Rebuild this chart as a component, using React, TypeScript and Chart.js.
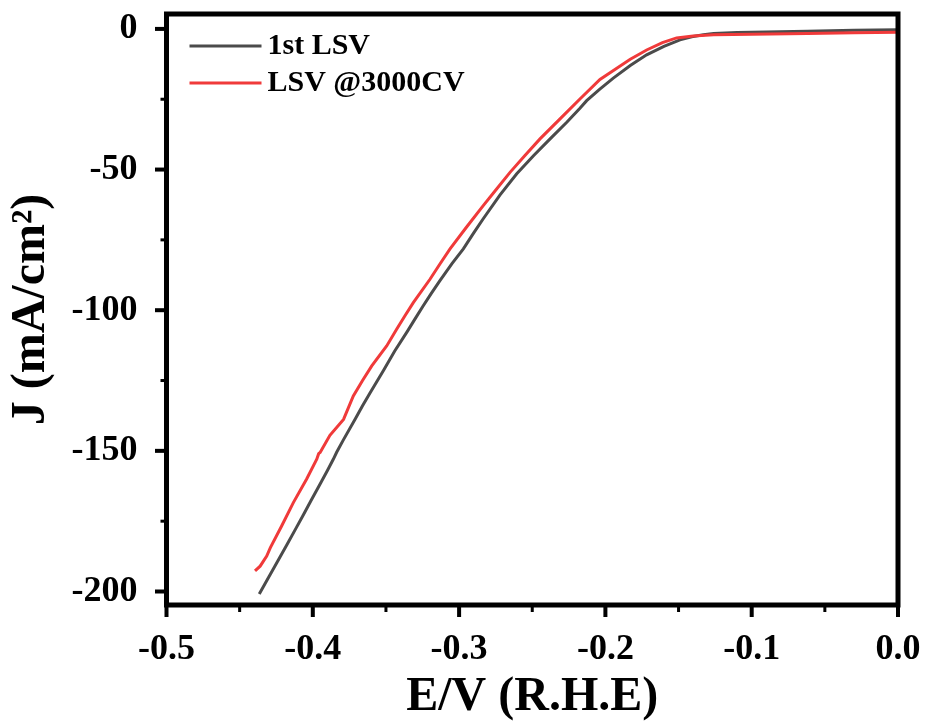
import React, { useEffect, useRef } from "react";
import { Chart, registerables } from "chart.js";

Chart.register(...registerables);

const FONT = "'Liberation Serif', 'Times New Roman', serif";

const seriesLabels = ["1st LSV", "LSV @3000CV"];
const seriesColors = ["#4b4b4b", "#f03a3a"];

// 1st LSV: potential (V vs RHE) and current density (mA/cm2)
const firstE = [
  -0.4366, -0.432, -0.427, -0.4225, -0.4178, -0.412, -0.4065, -0.401, -0.395, -0.39,
  -0.386, -0.3837, -0.379, -0.371, -0.366, -0.361, -0.3518, -0.344, -0.3358, -0.33,
  -0.3245, -0.319, -0.3131, -0.305, -0.2971, -0.29, -0.2835, -0.272, -0.2606, -0.249,
  -0.2378, -0.2264, -0.2174, -0.2128, -0.204, -0.1946, -0.183, -0.1718, -0.16, -0.149,
  -0.141, -0.133, -0.126, -0.11, -0.09, -0.062, -0.03, 0.0,
];
const firstJ = [
  -200.9, -196.6, -192, -187.8, -183.5, -178, -172.8, -167.5, -161.8, -157,
  -153, -150.5, -146, -138.7, -134, -129.5, -121.5, -114.5, -107.9, -103,
  -98.4, -94, -89.5, -83.5, -78.2, -72.5, -67.5, -59, -51.5, -45,
  -39.1, -33.2, -28.2, -25.5, -21.5, -17.5, -13, -9.2, -6.2, -3.9,
  -2.8, -2.1, -1.6, -1.3, -1.1, -0.8, -0.5, -0.3,
];

// LSV after 3000 CV cycles
const cycledE = [
  -0.4395, -0.436, -0.4315, -0.429, -0.4213, -0.4133, -0.4042, -0.3973, -0.396, -0.395,
  -0.3883, -0.379, -0.3723, -0.366, -0.3597, -0.3495, -0.3427, -0.337, -0.3313, -0.3199,
  -0.313, -0.3062, -0.295, -0.2835, -0.2745, -0.2652, -0.255, -0.2447, -0.231, -0.2174,
  -0.2037, -0.194, -0.183, -0.1718, -0.161, -0.1513, -0.14, -0.126, -0.1, -0.062,
  -0.03, 0.0,
];
const cycledJ = [
  -192.7, -191, -187.4, -184.4, -176.7, -168.4, -160, -153, -151, -150.6,
  -144.5, -138.8, -130.5, -125, -119.8, -112.7, -106.8, -102, -97.3, -89,
  -83.5, -78.2, -70.5, -62.8, -57, -51, -45, -39.1, -32, -24.9,
  -18, -14.6, -10.8, -7.5, -4.9, -3.2, -2.5, -2.1, -1.9, -1.6,
  -1.4, -1.2,
];

const xRange = [-0.5, 0.0];
const yRange = [-204.8, 5.3];
const xMajorTicks = [-0.5, -0.4, -0.3, -0.2, -0.1, 0.0];
const xMinorTicks = [-0.45, -0.35, -0.25, -0.15, -0.05];
const yMajorTicks = [0, -50, -100, -150, -200];
const yMinorTicks = [-25, -75, -125, -175];

const xTitle = "E/V (R.H.E)";
const yTitle = "J (mA/cm\u00B2)";

const toPoints = (xs: number[], ys: number[]) => xs.map((x, i) => ({ x, y: ys[i] }));

const framePlugin = {
  id: "frameAndTicks",
  afterDatasetsDraw(chart: any) {
    const { ctx, chartArea } = chart;
    const { left, right, top, bottom } = chartArea;
    const xs = chart.scales.x;
    const ys = chart.scales.y;
    ctx.save();
    ctx.fillStyle = "#000";
    for (const v of yMajorTicks) {
      const p = ys.getPixelForValue(v);
      ctx.fillRect(left - 11.5, p - 2, 11.5, 4);
    }
    for (const v of yMinorTicks) {
      const p = ys.getPixelForValue(v);
      ctx.fillRect(left - 6, p - 1.5, 6, 3);
    }
    for (const v of xMajorTicks) {
      const p = xs.getPixelForValue(v);
      ctx.fillRect(p - 2, bottom, 4, 12);
    }
    for (const v of xMinorTicks) {
      const p = xs.getPixelForValue(v);
      ctx.fillRect(p - 1.5, bottom, 3, 7);
    }
    ctx.strokeStyle = "#000";
    ctx.lineWidth = 5;
    ctx.strokeRect(left, top, right - left, bottom - top);
    ctx.restore();
  },
};

const legendPlugin = {
  id: "insideLegend",
  afterDraw(chart: any) {
    const { ctx, chartArea } = chart;
    const x0 = chartArea.left + 23;
    const rows = [chartArea.top + 32, chartArea.top + 69];
    ctx.save();
    ctx.font = `bold 30px ${FONT}`;
    ctx.textBaseline = "middle";
    ctx.textAlign = "left";
    seriesLabels.forEach((label, i) => {
      const y = rows[i];
      ctx.strokeStyle = seriesColors[i];
      ctx.lineWidth = 3;
      ctx.beginPath();
      ctx.moveTo(x0, y);
      ctx.lineTo(x0 + 72, y);
      ctx.stroke();
      ctx.fillStyle = "#000";
      ctx.fillText(label, x0 + 78, y);
    });
    ctx.restore();
  },
};

export default function App() {
  const ref = useRef<HTMLCanvasElement>(null);
  useEffect(() => {
    document.body.style.margin = "0";
    const canvas = ref.current;
    if (!canvas) return;
    const tickFont = { family: FONT, size: 36, weight: "bold" as const, lineHeight: 1 };
    const titleFont = { family: FONT, size: 48, weight: "bold" as const, lineHeight: 1 };
    const chart = new Chart(canvas, {
      type: "line",
      data: {
        datasets: [
          {
            label: seriesLabels[0],
            data: toPoints(firstE, firstJ),
            borderColor: seriesColors[0],
            borderWidth: 3,
            pointRadius: 0,
            tension: 0,
            fill: false,
            order: 2,
          },
          {
            label: seriesLabels[1],
            data: toPoints(cycledE, cycledJ),
            borderColor: seriesColors[1],
            borderWidth: 3,
            pointRadius: 0,
            tension: 0,
            fill: false,
            order: 1,
          },
        ],
      },
      options: {
        animation: false,
        responsive: false,
        events: [],
        layout: { padding: { top: 14, right: 29, left: 0, bottom: 0 } },
        plugins: { legend: { display: false }, tooltip: { enabled: false } },
        scales: {
          x: {
            type: "linear",
            min: xRange[0],
            max: xRange[1],
            grid: { display: false },
            border: { display: false },
            afterBuildTicks: (scale: any) => {
              scale.ticks = xMajorTicks.map((v) => ({ value: v }));
            },
            afterFit: (scale: any) => {
              scale.height = 117;
              scale.paddingLeft = 0;
              scale.paddingRight = 0;
              scale.paddingTop = 0;
              scale.paddingBottom = 0;
            },
            ticks: {
              color: "#000",
              font: tickFont,
              padding: 19,
              maxRotation: 0,
              autoSkip: false,
              callback: (v: any) => Number(v).toFixed(1),
            },
            title: {
              display: true,
              text: xTitle,
              color: "#000",
              font: titleFont,
              padding: { top: 0, bottom: 0 },
            },
          },
          y: {
            type: "linear",
            min: yRange[0],
            max: yRange[1],
            grid: { display: false },
            border: { display: false },
            afterBuildTicks: (scale: any) => {
              scale.ticks = yMajorTicks.map((v) => ({ value: v }));
            },
            afterFit: (scale: any) => {
              scale.width = 166.5;
              scale.paddingLeft = 0;
              scale.paddingRight = 0;
              scale.paddingTop = 0;
              scale.paddingBottom = 0;
            },
            ticks: {
              color: "#000",
              font: tickFont,
              padding: 21,
              autoSkip: false,
              callback: (v: any) => String(v),
            },
            title: {
              display: true,
              text: yTitle,
              color: "#000",
              font: titleFont,
              padding: { top: 8, bottom: 0 },
            },
          },
        },
      },
      plugins: [framePlugin, legendPlugin],
    });
    return () => chart.destroy();
  }, []);
  return (
    <div style={{ width: 927, height: 722 }}>
      <canvas ref={ref} width={927} height={722} style={{ display: "block" }} />
    </div>
  );
}
